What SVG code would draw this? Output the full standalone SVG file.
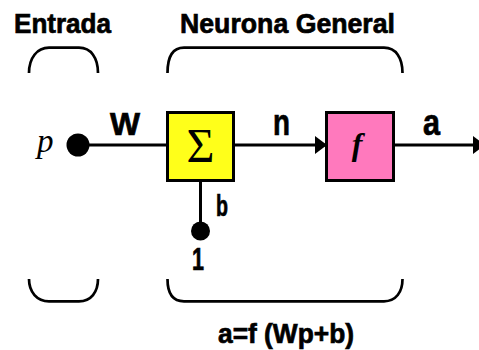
<svg xmlns="http://www.w3.org/2000/svg" width="479" height="350" viewBox="0 0 479 350">
<style>
.t{font-family:"Liberation Sans",Arial,sans-serif;font-weight:bold;fill:#000;stroke:#000;stroke-width:0.7}
.br{fill:none;stroke:#000;stroke-width:2.7}
.ln{fill:none;stroke:#000;stroke-width:3}
.box{stroke:#000;stroke-width:3}
</style>
<defs>
<marker id="ah" markerUnits="userSpaceOnUse" markerWidth="14" markerHeight="20" refX="12" refY="9" orient="auto">
<path d="M0,0 L12,9 L0,18 Z" fill="#000"/>
</marker>
</defs>
<rect width="479" height="350" fill="#fff"/>
<g id="labels">
<text class="t" x="14" y="33" font-size="28" textLength="97" lengthAdjust="spacingAndGlyphs">Entrada</text>
<text class="t" x="180" y="33" font-size="28" textLength="215" lengthAdjust="spacingAndGlyphs">Neurona General</text>
<text class="t" x="218" y="343" font-size="28" textLength="136" lengthAdjust="spacingAndGlyphs">a=f (Wp+b)</text>
</g>
<g id="brackets">
<path class="br" d="M29,73 C29,58 37,47.7 49,47.7 L79,47.7 C91,47.7 98,58 98,73"/>
<path class="br" d="M29,279 C29,292 37,301.3 49,301.3 L79,301.3 C91,301.3 98,292 98,279"/>
<path class="br" d="M167.5,73 C167.5,58 172,47.7 184,47.7 L384,47.7 C396,47.7 402.5,58 402.5,73"/>
<path class="br" d="M167.5,279 C167.5,292 172,301.3 184,301.3 L384,301.3 C396,301.3 402.5,292 402.5,279"/>
</g>
<g id="connectors">
<line class="ln" x1="78" y1="145" x2="167" y2="145"/>
<line class="ln" x1="200.5" y1="182" x2="200.5" y2="231"/>
<line class="ln" x1="234" y1="145" x2="327" y2="145" marker-end="url(#ah)"/>
<line class="ln" x1="395" y1="145" x2="485" y2="145" marker-end="url(#ah)"/>
<text class="t" x="110" y="135" font-size="31" textLength="30" lengthAdjust="spacingAndGlyphs">W</text>
<text class="t" x="273" y="135" font-size="37" textLength="17" lengthAdjust="spacingAndGlyphs">n</text>
<text class="t" x="423" y="135" font-size="37" textLength="17" lengthAdjust="spacingAndGlyphs">a</text>
<text class="t" x="216" y="216" font-size="30" textLength="12" lengthAdjust="spacingAndGlyphs">b</text>
</g>
<g id="input">
<circle cx="78" cy="145" r="11.5" fill="#000"/>
<text x="37" y="152" font-family="'Liberation Serif','Times New Roman',serif" font-style="italic" font-size="33" fill="#000">p</text>
</g>
<g id="bias">
<circle cx="200.5" cy="231" r="9.5" fill="#000"/>
<text class="t" x="192" y="270" font-size="31" textLength="12" lengthAdjust="spacingAndGlyphs">1</text>
</g>
<g id="sum">
<rect class="box" x="167.5" y="112.5" width="66" height="68" fill="#FFFF1A"/>
<text x="200.5" y="162" text-anchor="middle" font-family="'Liberation Serif','Times New Roman',serif" font-size="48" fill="#000">Σ</text>
</g>
<g id="transfer">
<rect class="box" x="326.5" y="112.5" width="67" height="68" fill="#FF79BD"/>
<text x="357" y="155" text-anchor="middle" font-family="'Liberation Serif','Times New Roman',serif" font-style="italic" font-weight="bold" font-size="32" fill="#000">f</text>
</g>
</svg>
